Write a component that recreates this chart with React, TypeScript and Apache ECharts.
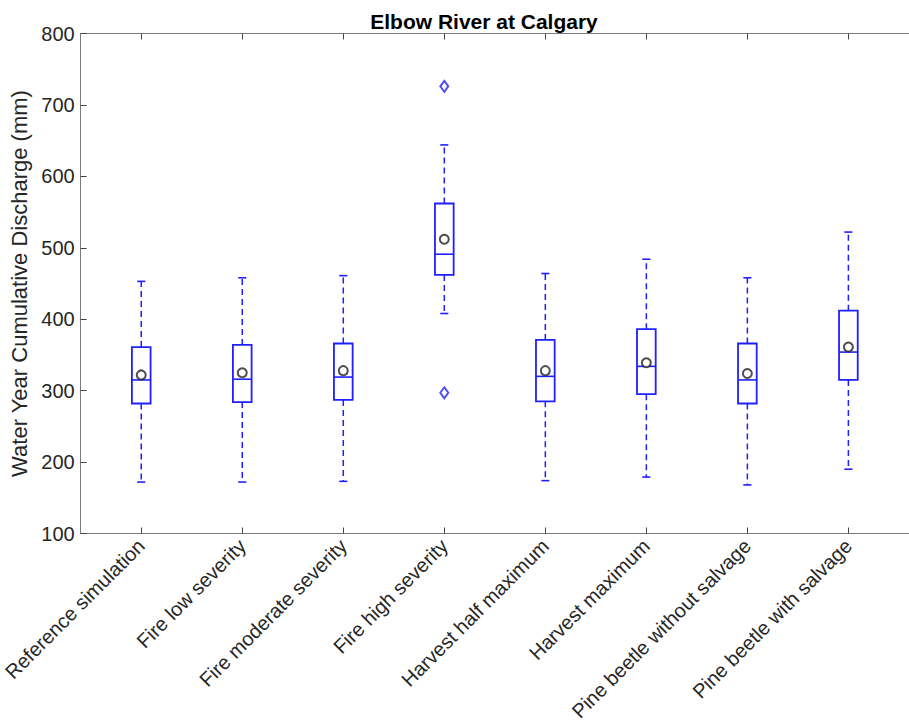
import React, { useEffect, useRef } from "react";
import * as echarts from "echarts";

const categories = [
  "Reference simulation",
  "Fire low severity",
  "Fire moderate severity",
  "Fire high severity",
  "Harvest half maximum",
  "Harvest maximum",
  "Pine beetle without salvage",
  "Pine beetle with salvage",
];
const lowerWhisker = [172, 172, 173, 408, 174, 179, 168, 190];
const q1 = [282, 284, 287, 462, 285, 295, 282, 315];
const median = [315, 316, 319, 491, 320, 334, 315, 354];
const q3 = [361, 364, 366, 562, 371, 386, 366, 412];
const upperWhisker = [453, 458, 461, 644, 464, 484, 458, 522];
const means = [322, 325, 328, 512, 328, 339, 324, 361];
const outlierCategory = [4, 4];
const outlierValue = [726, 297];
const yTicks = [100, 200, 300, 400, 500, 600, 700, 800];

const FONT = "'Liberation Sans', Arial, Helvetica, sans-serif";
const BLUE = "#1f1fff";
const AXIS = "#7a7a7a";

export default function App() {
  const ref = useRef<HTMLDivElement>(null);
  useEffect(() => {
    if (!ref.current) return;
    const chart = echarts.init(ref.current, null, { renderer: "svg" });
    const boxData = categories.map((_, i) => [
      i + 1,
      lowerWhisker[i],
      q1[i],
      median[i],
      q3[i],
      upperWhisker[i],
    ]);
    const positions = categories.map((_, i) => i + 1);
    const option: any = {
      animation: false,
      backgroundColor: "#ffffff",
      textStyle: { fontFamily: FONT },
      title: {
        text: "Elbow River at Calgary",
        left: 479,
        top: 6,
        textAlign: "center",
        textStyle: { fontFamily: FONT, fontSize: 21, fontWeight: "bold", color: "#000" },
      },
      grid: { left: 77.3, top: 33.5, width: 842.6, height: 500, containLabel: false },
      xAxis: [
        {
          type: "value",
          min: 0.4,
          max: 8.6,
          position: "bottom",
          splitLine: { show: false },
          axisLine: { show: true, lineStyle: { color: AXIS, width: 1 } },
          axisTick: {
            show: true,
            inside: true,
            length: 6,
            customValues: positions,
            lineStyle: { color: "#444", width: 1 },
          },
          axisLabel: {
            show: true,
            customValues: positions,
            rotate: 45,
            margin: 9,
            fontSize: 20,
            fontFamily: FONT,
            color: "#262626",
            formatter: (v: number) => categories[Math.round(v) - 1] || "",
          },
        },
        {
          type: "value",
          min: 0.4,
          max: 8.6,
          position: "top",
          splitLine: { show: false },
          axisLine: { show: true, lineStyle: { color: AXIS, width: 1 } },
          axisTick: {
            show: true,
            inside: true,
            length: 6,
            customValues: positions,
            lineStyle: { color: "#444", width: 1 },
          },
          axisLabel: { show: false },
        },
      ],
      yAxis: {
        type: "value",
        min: 100,
        max: 800,
        interval: 100,
        splitLine: { show: false },
        axisLine: { show: true, lineStyle: { color: AXIS, width: 1 } },
        axisTick: { show: true, inside: true, length: 6, lineStyle: { color: "#444" } },
        axisLabel: {
          fontSize: 20,
          fontFamily: FONT,
          color: "#262626",
          margin: 6,
          customValues: yTicks,
        },
        name: "Water Year Cumulative Discharge (mm)",
        nameLocation: "middle",
        nameRotate: 90,
        nameGap: 46,
        nameTextStyle: { fontSize: 22, fontFamily: FONT, color: "#262626" },
      },
      series: [
        {
          type: "custom",
          xAxisIndex: 0,
          data: boxData,
          renderItem: (params: any, api: any) => {
            const x = api.value(0);
            const lo = api.value(1);
            const b1 = api.value(2);
            const md = api.value(3);
            const b3 = api.value(4);
            const hi = api.value(5);
            const halfBox = api.size([0.185, 0])[0] / 2;
            const halfCap = api.size([0.08, 0])[0] / 2;
            const pLo = api.coord([x, lo]);
            const p1 = api.coord([x, b1]);
            const pm = api.coord([x, md]);
            const p3 = api.coord([x, b3]);
            const pHi = api.coord([x, hi]);
            const cx = pLo[0];
            const solid = { stroke: BLUE, lineWidth: 1.6, fill: "none" };
            const dashed = { stroke: BLUE, lineWidth: 1.5, lineDash: [6, 4] };
            return {
              type: "group",
              children: [
                { type: "line", shape: { x1: cx, y1: p3[1], x2: cx, y2: pHi[1] }, style: dashed },
                { type: "line", shape: { x1: cx, y1: p1[1], x2: cx, y2: pLo[1] }, style: dashed },
                { type: "line", shape: { x1: cx - halfCap, y1: pHi[1], x2: cx + halfCap, y2: pHi[1] }, style: solid },
                { type: "line", shape: { x1: cx - halfCap, y1: pLo[1], x2: cx + halfCap, y2: pLo[1] }, style: solid },
                {
                  type: "rect",
                  shape: { x: cx - halfBox, y: p3[1], width: halfBox * 2, height: p1[1] - p3[1] },
                  style: { stroke: BLUE, lineWidth: 1.8, fill: "transparent" },
                },
                { type: "line", shape: { x1: cx - halfBox, y1: pm[1], x2: cx + halfBox, y2: pm[1] }, style: solid },
              ],
            };
          },
          z: 2,
        },
        {
          type: "scatter",
          xAxisIndex: 0,
          data: means.map((m, i) => [i + 1, m]),
          symbol: "emptyCircle",
          symbolSize: 9,
          itemStyle: { color: "#222", borderColor: "#222", borderWidth: 0.9 },
          z: 3,
        },
        {
          type: "scatter",
          xAxisIndex: 0,
          data: outlierValue.map((v, i) => [outlierCategory[i], v]),
          symbol: "emptyDiamond",
          symbolSize: [8, 11],
          itemStyle: { color: BLUE, borderColor: BLUE, borderWidth: 1.2 },
          z: 3,
        },
      ],
    };
    chart.setOption(option);
    return () => chart.dispose();
  }, []);
  return (
    <div
      ref={ref}
      style={{ position: "absolute", left: 0, top: 0, width: 909, height: 724, background: "#fff" }}
    />
  );
}
